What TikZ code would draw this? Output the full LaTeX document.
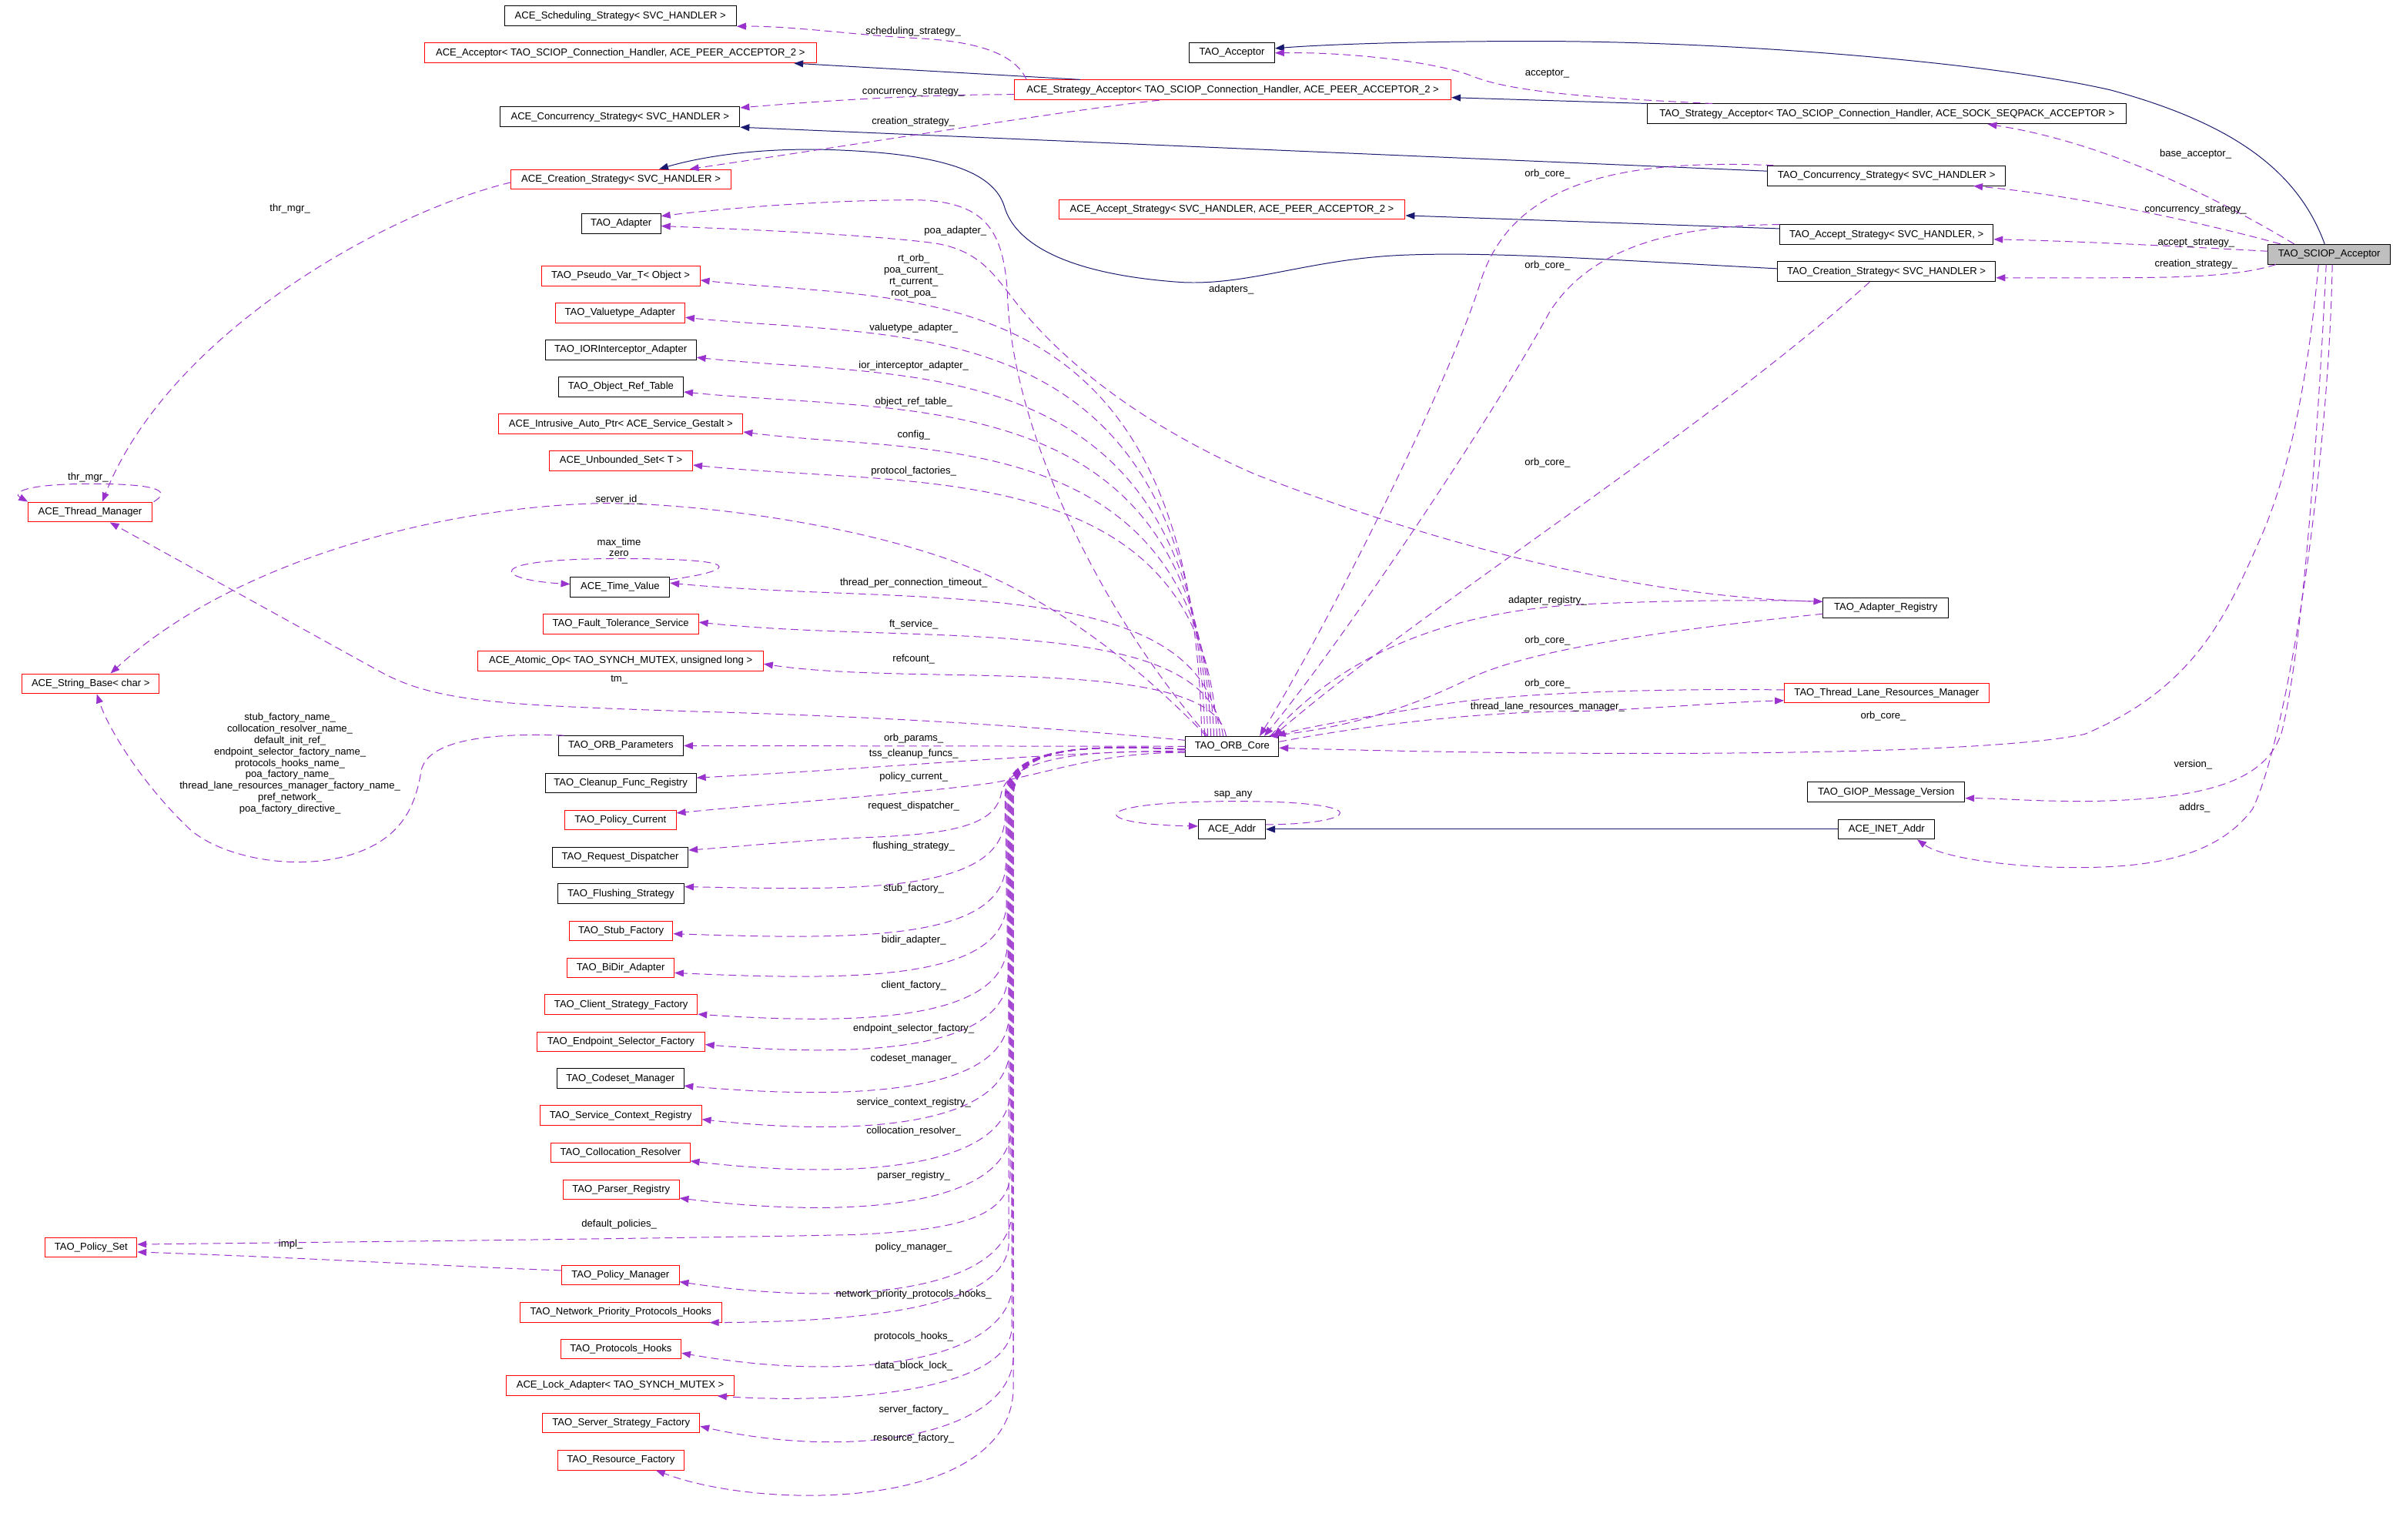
\documentclass[tikz,border=0pt]{standalone}
\usepackage{fontspec}
\setmainfont{Liberation Sans}
\usetikzlibrary{arrows.meta}
\definecolor{usecol}{HTML}{9A32CD}
\definecolor{inhcol}{HTML}{191970}
\tikzset{
  cls/.style={draw=black, fill=white, line width=0.5pt, font=\fontsize{6.6}{7.45}\selectfont, inner xsep=2pt, inner ysep=0pt, minimum height=13pt},
  undoc/.style={cls, draw=red},
  focus/.style={cls, fill=black!25},
  inh/.style={draw=inhcol, line width=0.5pt, -{Triangle[length=6pt,width=4.5pt]}},
  use/.style={draw=usecol, line width=0.5pt, dash pattern=on 5pt off 3pt, -{Triangle[length=6pt,width=4.5pt]}},
  lbl/.style={font=\fontsize{6.6}{7.45}\selectfont, inner sep=0pt, align=center}
}
\begin{document}
\begin{tikzpicture}[x=1pt, y=1pt]
    \fill[white] (0,0) rectangle (1568,-1009);
    \useasboundingbox (0,0) rectangle (1568,-1009);

    \node[cls, minimum width=152pt] (sched) at (406.5,-10.5) {ACE\_Scheduling\_Strategy< SVC\_HANDLER >};
    \node[undoc, minimum width=257pt] (aceacc) at (406.5,-34.7) {ACE\_Acceptor< TAO\_SCIOP\_Connection\_Handler, ACE\_PEER\_ACCEPTOR\_2 >};
    \node[cls, minimum width=56pt] (taoacc) at (807.2,-34.7) {TAO\_Acceptor};
    \node[undoc, minimum width=286pt] (strat) at (807.8,-58.9) {ACE\_Strategy\_Acceptor< TAO\_SCIOP\_Connection\_Handler, ACE\_PEER\_ACCEPTOR\_2 >};
    \node[cls, minimum width=157pt] (acecon) at (406.3,-76.6) {ACE\_Concurrency\_Strategy< SVC\_HANDLER >};
    \node[cls, minimum width=314pt] (taostrat) at (1236.4,-74.6) {TAO\_Strategy\_Acceptor< TAO\_SCIOP\_Connection\_Handler, ACE\_SOCK\_SEQPACK\_ACCEPTOR >};
    \node[undoc, minimum width=144pt] (acecre) at (406.9,-117.5) {ACE\_Creation\_Strategy< SVC\_HANDLER >};
    \node[cls, minimum width=156pt] (taocon) at (1236.1,-115.1) {TAO\_Concurrency\_Strategy< SVC\_HANDLER >};
    \node[cls, minimum width=52pt] (adapter) at (407,-146.6) {TAO\_Adapter};
    \node[undoc, minimum width=227pt] (aceaccst) at (807.2,-137.2) {ACE\_Accept\_Strategy< SVC\_HANDLER, ACE\_PEER\_ACCEPTOR\_2 >};
    \node[cls, minimum width=140pt] (taoaccst) at (1236.1,-153.8) {TAO\_Accept\_Strategy< SVC\_HANDLER, >};
    \node[focus, minimum width=80pt] (sciop) at (1526.2,-166.6) {TAO\_SCIOP\_Acceptor};
    \node[cls, minimum width=143pt] (taocre) at (1236.1,-178) {TAO\_Creation\_Strategy< SVC\_HANDLER >};
    \node[undoc, minimum width=104pt] (pseudo) at (406.7,-180.8) {TAO\_Pseudo\_Var\_T< Object >};
    \node[undoc, minimum width=85pt] (valtype) at (406.3,-205) {TAO\_Valuetype\_Adapter};
    \node[cls, minimum width=99pt] (ior) at (406.7,-229.3) {TAO\_IORInterceptor\_Adapter};
    \node[cls, minimum width=82pt] (objref) at (406.8,-253.4) {TAO\_Object\_Ref\_Table};
    \node[undoc, minimum width=160pt] (intrusive) at (406.8,-277.9) {ACE\_Intrusive\_Auto\_Ptr< ACE\_Service\_Gestalt >};
    \node[undoc, minimum width=94pt] (unbounded) at (406.9,-301.8) {ACE\_Unbounded\_Set< T >};
    \node[undoc, minimum width=81pt] (thrmgr) at (59,-335.5) {ACE\_Thread\_Manager};
    \node[cls, minimum width=65pt] (timeval) at (406.3,-384.7) {ACE\_Time\_Value};
    \node[undoc, minimum width=102pt] (ft) at (406.7,-408.8) {TAO\_Fault\_Tolerance\_Service};
    \node[undoc, minimum width=187pt] (atomic) at (406.7,-433) {ACE\_Atomic\_Op< TAO\_SYNCH\_MUTEX, unsigned long >};
    \node[undoc, minimum width=90pt] (strbase) at (59.4,-448) {ACE\_String\_Base< char >};
    \node[cls, minimum width=82pt] (orbparams) at (406.8,-488.6) {TAO\_ORB\_Parameters};
    \node[cls, minimum width=99pt] (cleanup) at (406.7,-513.1) {TAO\_Cleanup\_Func\_Registry};
    \node[undoc, minimum width=73pt] (polcur) at (406.5,-537.3) {TAO\_Policy\_Current};
    \node[cls, minimum width=89pt] (reqdisp) at (406.4,-561.6) {TAO\_Request\_Dispatcher};
    \node[cls, minimum width=83pt] (flush) at (406.8,-585.6) {TAO\_Flushing\_Strategy};
    \node[undoc, minimum width=68pt] (stubfac) at (406.9,-609.9) {TAO\_Stub\_Factory};
    \node[undoc, minimum width=70pt] (bidir) at (406.7,-634.1) {TAO\_BiDir\_Adapter};
    \node[undoc, minimum width=100pt] (client) at (407,-658.2) {TAO\_Client\_Strategy\_Factory};
    \node[undoc, minimum width=110pt] (endpoint) at (406.8,-682.6) {TAO\_Endpoint\_Selector\_Factory};
    \node[cls, minimum width=83pt] (codeset) at (406.5,-706.7) {TAO\_Codeset\_Manager};
    \node[undoc, minimum width=106pt] (svcctx) at (406.7,-730.9) {TAO\_Service\_Context\_Registry};
    \node[undoc, minimum width=91pt] (colloc) at (406.6,-755.2) {TAO\_Collocation\_Resolver};
    \node[undoc, minimum width=76pt] (parser) at (407,-779.5) {TAO\_Parser\_Registry};
    \node[undoc, minimum width=60pt] (polset) at (59.7,-817.3) {TAO\_Policy\_Set};
    \node[undoc, minimum width=77pt] (polmgr) at (406.5,-835.4) {TAO\_Policy\_Manager};
    \node[undoc, minimum width=132pt] (netprio) at (406.8,-859.8) {TAO\_Network\_Priority\_Protocols\_Hooks};
    \node[undoc, minimum width=79pt] (prothooks) at (406.8,-883.9) {TAO\_Protocols\_Hooks};
    \node[undoc, minimum width=149pt] (lock) at (406.4,-907.9) {ACE\_Lock\_Adapter< TAO\_SYNCH\_MUTEX >};
    \node[undoc, minimum width=103pt] (srvfac) at (407,-932.3) {TAO\_Server\_Strategy\_Factory};
    \node[undoc, minimum width=83pt] (resfac) at (406.8,-956.6) {TAO\_Resource\_Factory};
    \node[cls, minimum width=61pt] (orbcore) at (807.4,-489) {TAO\_ORB\_Core};
    \node[cls, minimum width=82pt] (adreg) at (1235.6,-398.2) {TAO\_Adapter\_Registry};
    \node[undoc, minimum width=134pt] (tlrm) at (1236.2,-454) {TAO\_Thread\_Lane\_Resources\_Manager};
    \node[cls, minimum width=103pt] (giop) at (1235.9,-519) {TAO\_GIOP\_Message\_Version};
    \node[cls, minimum width=44pt] (aceaddr) at (807.2,-543.3) {ACE\_Addr};
    \node[cls, minimum width=63pt] (inet) at (1236.2,-543.3) {ACE\_INET\_Addr};

    \draw[inh] ([xshift=-100pt]strat.north) -- ([xshift=-15pt]aceacc.south east);
    \draw[inh] (taostrat.north west) -- ([yshift=-5pt]strat.east);
    \draw[inh] ([xshift=-3pt]sciop.north) .. controls (1505,-110) and (1460,-80) .. (1383,-59) .. controls (1300,-40) and (1130,-27) .. (1005,-27) .. controls (930,-27) and (870,-29) .. ([yshift=3pt]taoacc.east);
    \draw[inh] ([yshift=3pt]taocon.west) -- (acecon.south east);
    \draw[inh] ([yshift=4pt]taoaccst.west) -- ([yshift=-4pt]aceaccst.east);
    \draw[inh] ([yshift=2pt]taocre.west) .. controls (1050,-170) and (980,-165) .. (923,-167) .. controls (860,-169) and (820,-187) .. (775,-185) .. controls (700,-180) and (665,-160) .. (658,-135) .. controls (650,-110) and (610,-100) .. (540,-98) .. controls (490,-97) and (455,-104) .. ([xshift=25pt]acecre.north);
    \draw[inh] (inet.west) -- (aceaddr.east);

    \draw[use] ([xshift=8pt]strat.north west) .. controls (665,-35) and (640,-27) .. (600,-25) .. controls (560,-23) and (520,-17) .. (sched.south east);
    \node[lbl] (lsched) at (598.4,-20.5) {scheduling\_strategy\_};
    \draw[use] ([yshift=-3pt]strat.west) .. controls (600,-62) and (540,-66) .. ([yshift=6pt]acecon.east);
    \node[lbl] (lacecon) at (598.4,-60.5) {concurrency\_strategy\_};
    \draw[use] ([xshift=-48pt]strat.south) .. controls (700,-72) and (560,-95) .. ([xshift=45pt]acecre.north);
    \node[lbl] (lacecre) at (598.4,-79.7) {creation\_strategy\_};
    \draw[use] ([xshift=43pt]taostrat.north west) .. controls (1040,-64) and (990,-60) .. (965,-50) .. controls (940,-40) and (880,-34) .. (taoacc.east);
    \node[lbl] (ltaoacc) at (1013.8,-48.4) {acceptor\_};
    \draw[use] ([xshift=-23pt]sciop.north) .. controls (1470,-140) and (1390,-95) .. ([xshift=66pt]taostrat.south);
    \node[lbl] (lbase) at (1438.6,-100.9) {base\_acceptor\_};
    \draw[use] ([xshift=-32pt]sciop.north) .. controls (1440,-145) and (1360,-128) .. ([xshift=57pt]taocon.south);
    \node[lbl] (ltaocon) at (1438.6,-137.6) {concurrency\_strategy\_};
    \draw[use] ([yshift=2pt]sciop.west) .. controls (1420,-161) and (1360,-158) .. ([yshift=-3pt]taoaccst.east);
    \node[lbl] (ltaoaccst) at (1439,-159) {accept\_strategy\_};
    \draw[use] ([xshift=-35pt]sciop.south) .. controls (1470,-180) and (1440,-182) .. (1384,-182) .. controls (1350,-182) and (1330,-182) .. ([yshift=-4pt]taocre.east);
    \node[lbl] (ltaocre) at (1439,-173.2) {creation\_strategy\_};
    \draw[use] ([xshift=-7pt]sciop.south) .. controls (1512,-250) and (1500,-310) .. (1481,-353) .. controls (1460,-400) and (1440,-450) .. (1366,-481) .. controls (1290,-497) and (1000,-495) .. ([yshift=-1pt]orbcore.east);
    \node[lbl] (lsciorb) at (1234,-469) {orb\_core\_};
    \draw[use] ([xshift=-2pt]sciop.south) .. controls (1520,-260) and (1510,-420) .. (1495,-480) .. controls (1485,-510) and (1450,-524) .. (1366,-525) .. controls (1330,-525) and (1310,-523) .. ([yshift=-4pt]giop.east);
    \node[lbl] (lgiop) at (1437,-501) {version\_};
    \draw[use] ([xshift=2pt]sciop.south) .. controls (1526,-300) and (1500,-480) .. (1476,-530) .. controls (1450,-565) and (1400,-570) .. (1340,-568) .. controls (1300,-566) and (1270,-560) .. ([xshift=20pt]inet.south);
    \node[lbl] (linet) at (1438,-529) {addrs\_};

    \draw[use] ([xshift=-74pt]taocon.north) .. controls (1060,-104) and (990,-120) .. (970,-185) .. controls (950,-250) and (870,-410) .. ([xshift=18pt]orbcore.north);
    \node[lbl] (lconorb) at (1014,-114) {orb\_core\_};
    \draw[use] ([xshift=-70pt]taoaccst.north) .. controls (1090,-148) and (1040,-165) .. (1015,-205) .. controls (980,-270) and (880,-420) .. ([xshift=21pt]orbcore.north);
    \node[lbl] (laccorb) at (1014,-174) {orb\_core\_};
    \draw[use] ([xshift=-11pt]taocre.south) .. controls (1120,-280) and (930,-400) .. ([xshift=27pt]orbcore.north);
    \node[lbl] (lcreorb) at (1014,-303) {orb\_core\_};

    \draw[use] ([yshift=4pt]adreg.west) .. controls (1080,-392) and (950,-360) .. (823,-311) .. controls (740,-275) and (690,-230) .. (664,-196) .. controls (650,-178) and (640,-163) .. (610,-159) .. controls (560,-153) and (480,-150) .. ([yshift=-1.5pt]adapter.east);
    \node[lbl] (ladapters) at (806.8,-190) {adapters\_};
    \draw[use] ([xshift=-16pt]orbcore.north) .. controls (720,-400) and (662,-280) .. (660,-190) .. controls (657,-150) and (645,-132) .. (600,-131) .. controls (540,-131) and (470,-137) .. ([yshift=5pt]adapter.east);
    \node[lbl] (lpoa) at (626,-151.6) {poa\_adapter\_};
    \draw[use] ([xshift=25pt]orbcore.north) .. controls (870,-440) and (930,-402) .. (1036,-396) .. controls (1100,-393) and (1160,-393) .. ([yshift=4pt]adreg.west);
    \node[lbl] (ladreg) at (1014,-393.5) {adapter\_registry\_};
    \draw[use] ([yshift=-4pt]adreg.west) .. controls (1100,-412) and (1000,-425) .. (960,-446) .. controls (910,-470) and (870,-478) .. ([xshift=24pt]orbcore.north);
    \node[lbl] (lregorb) at (1014,-420) {orb\_core\_};
    \draw[use] ([yshift=2pt]tlrm.west) .. controls (1080,-451) and (980,-454) .. (930,-464) .. controls (880,-472) and (850,-478) .. ([xshift=29pt]orbcore.north);
    \node[lbl] (ltlrmorb) at (1014,-448) {orb\_core\_};
    \draw[use] ([yshift=3pt]orbcore.east) .. controls (880,-478) and (960,-466) .. (1036,-466) .. controls (1090,-464) and (1130,-460) .. ([yshift=-5pt]tlrm.west);
    \node[lbl] (ltlrm) at (1014,-463) {thread\_lane\_resources\_manager\_};

    \draw[use] ([xshift=-17pt]orbcore.north) .. controls (740,-430) and (680,-385) .. (611,-363) .. controls (540,-340) and (440,-328) .. (386,-330) .. controls (280,-334) and (150,-370) .. ([xshift=13pt]strbase.north);
    \node[lbl] (lserver) at (405.7,-327.3) {server\_id\_};
    \draw[use] ([yshift=4pt]orbcore.west) .. controls (700,-478) and (600,-470) .. (450,-466) .. controls (330,-462) and (285,-460) .. (249,-440) -- ([xshift=13pt]thrmgr.south);
    \node[lbl] (ltm) at (405.7,-445.5) {tm\_};
    \draw[use] ([yshift=-2pt]acecre.west) .. controls (250,-140) and (110,-220) .. ([xshift=8pt]thrmgr.north);
    \node[lbl] (lcrethr) at (190,-137) {thr\_mgr\_};
    \draw[use] ([xshift=1pt]thrmgr.north east) .. controls (112,-322) and (105,-317) .. (60,-317) .. controls (15,-317) and (8,-323) .. (thrmgr.north west);
    \node[lbl] (lthr) at (57.7,-313) {thr\_mgr\_};
    \draw[use] ([yshift=5pt]timeval.east) .. controls (470,-376) and (505,-366) .. (406,-366) .. controls (312,-366) and (325,-380) .. ([yshift=2pt]timeval.west);
    \node[lbl] (ltime) at (405.6,-358.6) {max\_time\\zero};
    \draw[use] ([yshift=3pt]aceaddr.east) .. controls (890,-540) and (905,-525) .. (810,-525) .. controls (710,-525) and (712,-540) .. ([yshift=2pt]aceaddr.west);
    \node[lbl] (lsap) at (808,-520.7) {sap\_any};

    \draw[use] ([xshift=4pt]orbparams.north west) .. controls (320,-480) and (280,-485) .. (276,-505) .. controls (272,-530) and (262,-550) .. (230,-560) .. controls (190,-572) and (140,-560) .. (122,-541) .. controls (95,-515) and (72,-480) .. ([xshift=4pt]strbase.south);
    \node[lbl] (lnames) at (190,-500.3) {stub\_factory\_name\_\\collocation\_resolver\_name\_\\default\_init\_ref\_\\endpoint\_selector\_factory\_name\_\\protocols\_hooks\_name\_\\poa\_factory\_name\_\\thread\_lane\_resources\_manager\_factory\_name\_\\pref\_network\_\\poa\_factory\_directive\_};
    \draw[use] ([yshift=3pt]polmgr.west) .. controls (300,-830) and (200,-824) .. ([yshift=-3pt]polset.east);
    \node[lbl] (limpl) at (190.5,-815.3) {impl\_};

    \foreach \t/\y/\l/\ly [count=\i] in {
        pseudo/183.6/{rt\_orb\_\\poa\_current\_\\rt\_current\_\\root\_poa\_}/180.9,
        valtype/208/valuetype\_adapter\_/215.1,
        ior/234.2/ior\_interceptor\_adapter\_/239.5,
        objref/256.8/object\_ref\_table\_/263.5,
        intrusive/283/config\_/284.9,
        unbounded/304.7/protocol\_factories\_/308.6,
        timeval/382/thread\_per\_connection\_timeout\_/381.8,
        ft/407.7/ft\_service\_/409.2,
        atomic/435/refcount\_/431.9}{
        \coordinate (ar) at (0,-\y);
        \draw[use] ([xshift=\i*2pt-22pt]orbcore.north) .. controls ({780+\i*1.5},{7-\y}) and (600,{-15-\y}) .. (\t.east |- ar);
        \node[lbl] (lu\i) at (598.7,-\ly) {\l};
    }

    \draw[use] (orbcore.west) -- (orbparams.east);
    \node[lbl] (lparams) at (598.7,-484.1) {orb\_params\_};
    \draw[use] ([yshift=-3pt]orbcore.west) .. controls (700,-492) and (600,-502) .. ([yshift=3.5pt]cleanup.east);
    \node[lbl] (lcleanup) at (598.7,-494.2) {tss\_cleanup\_funcs\_};
    \draw[use] ([yshift=-4pt]orbcore.west) .. controls (720,-493) and (690,-506) .. (650,-513) .. controls (600,-520) and (500,-527) .. ([yshift=4.6pt]polcur.east);
    \node[lbl] (lpolcur) at (598.7,-509.1) {policy\_current\_};
    \draw[use] ([yshift=-4pt]orbcore.west) .. controls (700,-490) and (660,-500) .. (656,-520) .. controls (652,-542) and (620,-547) .. (560,-549) .. controls (520,-551) and (480,-555) .. ([yshift=4.6pt]reqdisp.east);
    \node[lbl] (lreqdisp) at (598.7,-528.3) {request\_dispatcher\_};

    \foreach \t/\y/\l/\ly [count=\i] in {
        flush/581/flushing\_strategy\_/554.6,
        stubfac/611.8/stub\_factory\_/582.4,
        bidir/637.4/bidir\_adapter\_/615.8,
        client/664.5/client\_factory\_/645.8,
        endpoint/684.4/endpoint\_selector\_factory\_/674.3,
        codeset/711.4/codeset\_manager\_/693.5,
        svcctx/733.4/service\_context\_registry\_/722.3,
        colloc/760.7/collocation\_resolver\_/740.9,
        parser/785/parser\_registry\_/770.2,
        polmgr/839.8/policy\_manager\_/817.2,
        prothooks/886.5/protocols\_hooks\_/876,
        srvfac/934.5/server\_factory\_/924}{
        \coordinate (ar) at (0,-\y);
        \draw[use] ([yshift=-2pt]orbcore.west) .. controls (700,-487) and ({661+0.5*\i},-492) .. ({658+0.5*\i},-520) -- ({658+0.5*\i},{45-\y}) .. controls ({656+0.5*\i},{-5-\y}) and (560,{-2-\y-(\y-580)/17}) .. (\t.east |- ar);
        \node[lbl] (ll\i) at (598.7,-\ly) {\l};
    }

    \draw[use] ([yshift=-2pt]orbcore.west) .. controls (700,-487) and (664,-492) .. (662,-520) -- (662,-770) .. controls (660,-800) and (620,-806) .. (560,-809) .. controls (400,-812) and (200,-814) .. ([yshift=2pt]polset.east);
    \node[lbl] (ldefpol) at (405.7,-802.3) {default\_policies\_};
    \draw[use] ([yshift=-2pt]orbcore.west) .. controls (700,-487) and (663,-492) .. (661,-520) -- (661,-815) .. controls (659,-858) and (560,-866) .. ([xshift=-8pt]netprio.south east);
    \node[lbl] (lnetprio) at (598.7,-848) {network\_priority\_protocols\_hooks\_};
    \draw[use] ([yshift=-2pt]orbcore.west) .. controls (700,-487) and (665,-492) .. (663,-520) -- (663,-870) .. controls (661,-912) and (550,-920) .. ([xshift=-11pt]lock.south east);
    \node[lbl] (llock) at (598.7,-895.2) {data\_block\_lock\_};
    \draw[use] ([yshift=-2pt]orbcore.west) .. controls (700,-487) and (666,-492) .. (664,-520) -- (664,-910) .. controls (662,-990) and (500,-990) .. ([xshift=23pt]resfac.south);
    \node[lbl] (lresfac) at (598.7,-942.5) {resource\_factory\_};
\end{tikzpicture}
\end{document}
